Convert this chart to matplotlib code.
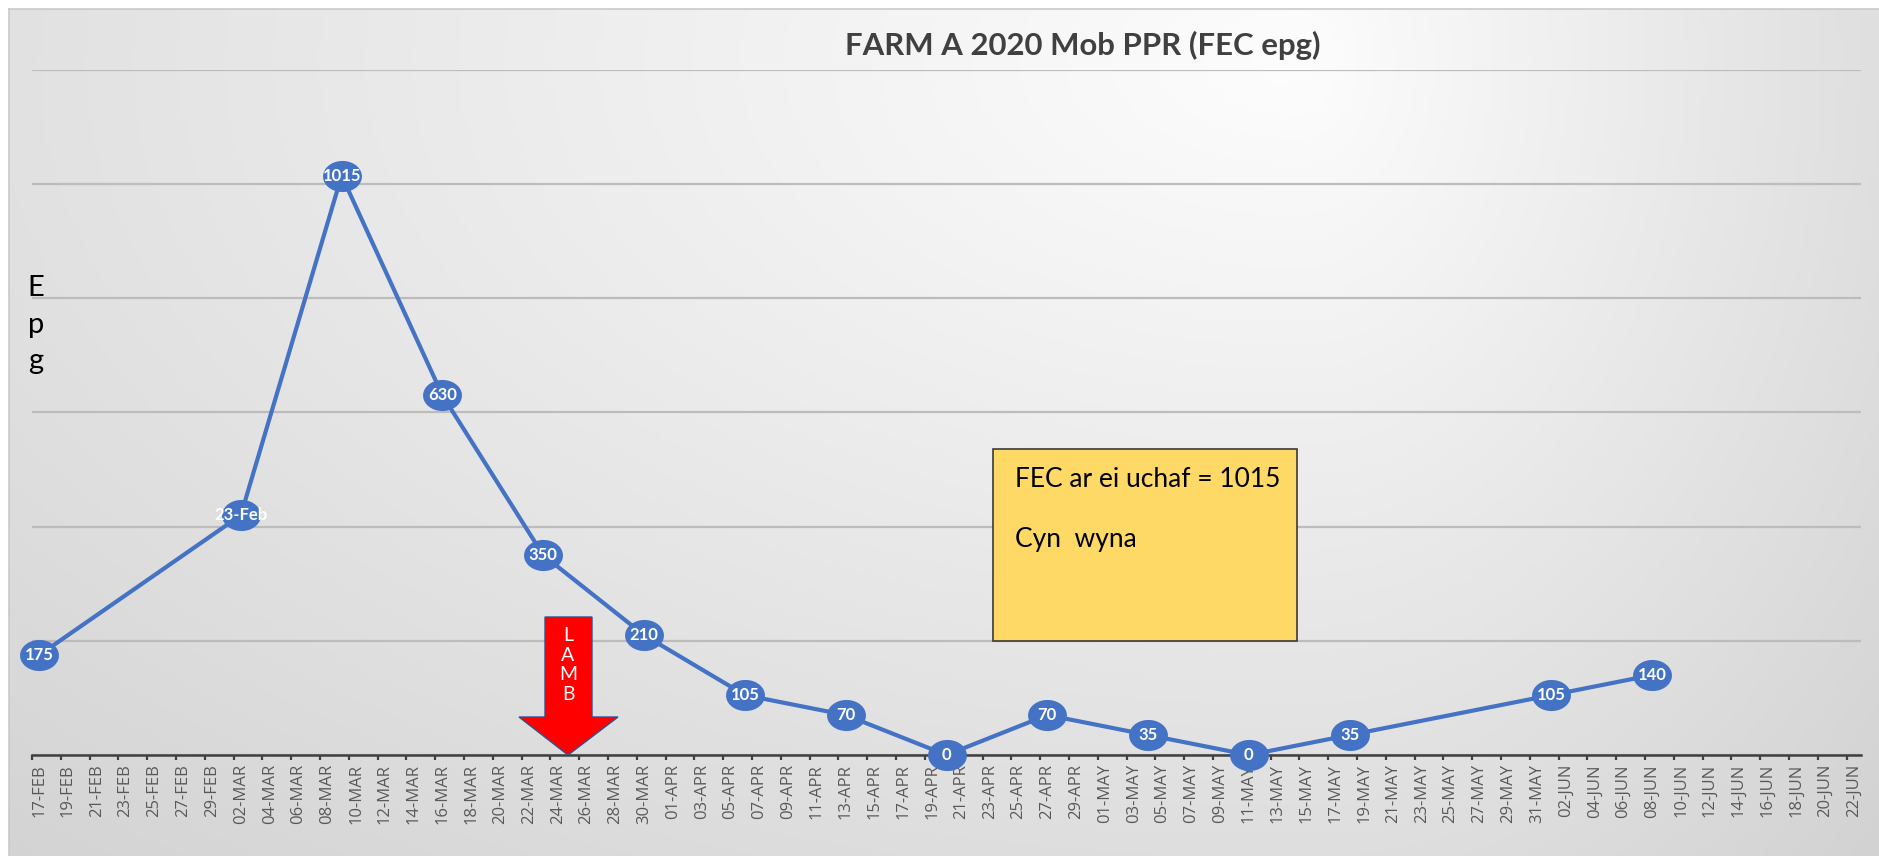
import numpy as np
import pandas as pd
import matplotlib
matplotlib.use('Agg')
import matplotlib.pyplot as plt
from matplotlib.path import Path
from matplotlib.patches import Polygon, Rectangle
from matplotlib.lines import Line2D

# ---------------- data ----------------
sample_dates = ['2020-02-17', '2020-03-02', '2020-03-09', '2020-03-16', '2020-03-23',
                '2020-03-30', '2020-04-06', '2020-04-13', '2020-04-20', '2020-04-27',
                '2020-05-04', '2020-05-11', '2020-05-18', '2020-06-01', '2020-06-08']
fec_epg = [175, 420, 1015, 630, 350, 210, 105, 70, 0, 70, 35, 0, 35, 105, 140]
point_labels = ['175', '23-Feb', '1015', '630', '350', '210', '105', '70', '0',
                '70', '35', '0', '35', '105', '140']
axis_start = '2020-02-17'
axis_end = '2020-06-22'
y_gridlines = [0, 200, 400, 600, 800, 1000, 1200]
title_text = 'FARM A 2020 Mob PPR (FEC epg)'
y_label_text = 'E\np\ng'
note_lines = ['FEC ar ei uchaf = 1015', 'Cyn  wyna']
arrow_text = 'L\nA\nM\nB'

# ---------------- figure ----------------
W, H = 1879, 856
fig = plt.figure(figsize=(W / 100, H / 100), dpi=100)
fig.patch.set_facecolor('white')


def fx(x):
    return x / W


def fy(y):
    return 1 - y / H


# background gradient of the chart area
bg = fig.add_axes([fx(9), 0, 1 - fx(9), fy(9)])
bg.set_axis_off()
gx = np.linspace(9, W, 400)
gy = np.linspace(9, H, 200)
GX, GY = np.meshgrid(gx, gy)
cx, cy = 1300, 60
dx = GX - cx
rx = np.where(dx < 0, 1450.0, 600.0)
t = np.sqrt((dx / rx) ** 2 + ((GY - cy) / 800.0) ** 2)
val = np.clip(253 - 31 * t, 200, 255) / 255.0
img = np.dstack([val, val, val])
bg.imshow(img, aspect='auto', extent=[0, 1, 0, 1], origin='upper')
bg.set_xlim(0, 1)
bg.set_ylim(0, 1)
fig.add_artist(Line2D([fx(9), fx(9)], [0, fy(9)], transform=fig.transFigure,
                      color='#C9C9C9', lw=1.2))
fig.add_artist(Line2D([fx(9), 1], [fy(9), fy(9)], transform=fig.transFigure,
                      color='#C9C9C9', lw=1.2))

# main axes
ax = fig.add_axes([fx(32), fy(755), fx(1861) - fx(32), fy(70) - fy(755)])
ax.set_facecolor('none')

x = pd.to_datetime(sample_dates)
half_day = pd.Timedelta(hours=12)
start = pd.Timestamp(axis_start)
end = pd.Timestamp(axis_end)
ax.set_xlim(start - half_day, end + half_day)
ax.set_ylim(y_gridlines[0], y_gridlines[-1])

ax.set_yticks(y_gridlines)
ax.set_yticklabels([])
ax.tick_params(axis='y', length=0)
ax.grid(axis='y', color='#BCBCBC', lw=1.6)
ax.set_axisbelow(True)

label_dates = pd.date_range(start, end, freq='2D')
ax.set_xticks(label_dates)
ax.set_xticklabels([d.strftime('%d-%b').upper() for d in label_dates],
                   rotation=90, fontsize=12, color='#595959', family='Open Sans')
ax.set_xticks(label_dates - half_day, minor=True)
ax.tick_params(axis='x', which='major', length=0, pad=6.5)
ax.tick_params(axis='x', which='minor', length=3.5, width=1.6, color='#404040',
               direction='out')

for s in ['top', 'right', 'left']:
    ax.spines[s].set_visible(False)
ax.spines['bottom'].set_color('#404040')
ax.spines['bottom'].set_linewidth(1.8)
ax.spines['bottom'].set_zorder(3)

# ellipse marker
th = np.linspace(0, 2 * np.pi, 80)
ell = Path(np.column_stack([np.cos(th), 0.8 * np.sin(th)]), closed=True)

ax.plot(x, fec_epg, color='#4472C4', lw=3.0, marker=ell, markersize=28,
        markerfacecolor='#4472C4', markeredgewidth=0, clip_on=False, zorder=4)
for xi, yi, lab in zip(x, fec_epg, point_labels):
    ax.text(xi, yi, lab, ha='center', va='center', color='white', fontsize=12,
            fontweight='bold', family='Lato', clip_on=False, zorder=5)

# title and y label
fig.text(fx(1083), fy(45), title_text, ha='center', va='center', fontsize=22.4,
         fontweight='bold', color='#404040', family='Lato')
fig.text(fx(36), fy(325), y_label_text, ha='center', va='center', fontsize=21,
         color='black', family='Lato', linespacing=1.5)

# LAMB arrow
arrow_px = [(545, 617), (592, 617), (592, 717), (618, 717), (568, 755),
            (519, 717), (545, 717)]
fig.add_artist(Polygon([(fx(a), fy(b)) for a, b in arrow_px], closed=True,
                       transform=fig.transFigure, facecolor='#FF0000',
                       edgecolor='#2F528F', lw=1.0, zorder=6))
fig.text(fx(568), fy(665), arrow_text, ha='center', va='center', fontsize=14,
         color='white', family='Lato', linespacing=1.2, zorder=7)

# note box
fig.add_artist(Rectangle((fx(993), fy(641)), fx(1297) - fx(993), fy(449) - fy(641),
                         transform=fig.transFigure, facecolor='#FFD966',
                         edgecolor='#3A3A3A', lw=1.2, zorder=6))
fig.text(fx(1015), fy(487), note_lines[0], ha='left', va='baseline', fontsize=19,
         color='black', family='Lato', zorder=7)
fig.text(fx(1015), fy(547), note_lines[1], ha='left', va='baseline', fontsize=19,
         color='black', family='Lato', zorder=7)

fig.savefig('out.png', dpi=100)
